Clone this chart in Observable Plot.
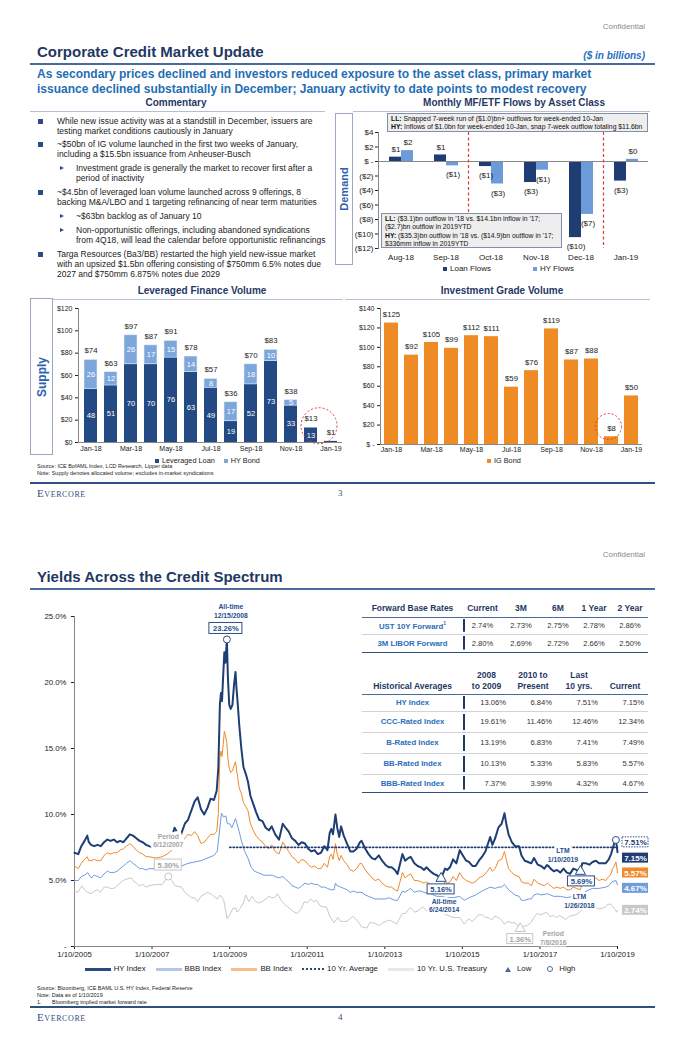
<!DOCTYPE html>
<html><head><meta charset="utf-8">
<script src="https://cdn.jsdelivr.net/npm/d3@7"></script>
<script src="https://cdn.jsdelivr.net/npm/@observablehq/plot@0.6"></script>
<style>
body{margin:0;background:#fff;font-family:"Liberation Sans",Arial,sans-serif;}
#page{position:relative;width:680px;height:1050px;overflow:hidden;}
.a{position:absolute;white-space:nowrap;}
.conf{right:35px;font-size:8px;color:#8a8a8a;line-height:10px;}
.ttl{left:37px;font-size:15px;font-weight:bold;color:#1F3864;line-height:18px;}
.rule{position:absolute;left:30px;width:625px;}
.sub{left:37px;font-size:12px;font-weight:bold;color:#1F6EB5;line-height:14.5px;}
.hd{font-size:10px;font-weight:bold;color:#1F3864;line-height:12px;transform:translateX(-50%);}
.cm{position:absolute;left:57px;font-size:8.5px;line-height:10px;color:#222;white-space:nowrap;}
.cm.s{left:76px;}
.sq{position:absolute;left:-19px;top:3px;width:4.5px;height:4.5px;background:#2B4C86;}
.tri{position:absolute;left:-16px;top:2.5px;width:0;height:0;border-left:4.5px solid #2B4C86;border-top:2.5px solid transparent;border-bottom:2.5px solid transparent;}
.vbox{position:absolute;border:1px solid #9aa8c0;box-sizing:border-box;display:flex;align-items:center;justify-content:center;}
.vbox span{transform:rotate(-90deg);font-weight:bold;font-size:11px;color:#2E62AD;white-space:nowrap;}
.note{position:absolute;background:#eeeeee;border:1px solid #8090a8;box-sizing:border-box;font-size:6.8px;line-height:8.4px;color:#111;padding:0 0 0 3px;white-space:nowrap;z-index:3;}
.lg{position:absolute;font-size:8px;line-height:10px;color:#222;white-space:nowrap;display:flex;align-items:center;}
.lg i{display:inline-block;width:4px;height:4px;margin-right:3px;}
.src{left:37px;font-size:5.5px;line-height:7px;color:#222;}
.ev{left:37px;font-family:"Liberation Serif","DejaVu Serif",serif;font-variant:small-caps;font-size:11px;letter-spacing:0.6px;color:#2F4F80;line-height:12px;}
.pg{left:338px;font-family:"Liberation Serif","DejaVu Serif",serif;font-size:9px;color:#2F4F80;line-height:12px;}
.tb{position:absolute;left:362px;border-collapse:collapse;table-layout:fixed;width:286px;font-size:7.6px;color:#333;z-index:4;}
.tb th{font-weight:bold;font-size:8.5px;color:#1F3864;padding:0;text-align:center;border-bottom:1.5px solid #4A6A9A;line-height:11px;}
.tb td{padding:0;text-align:center;border-bottom:1px solid #D3D3D3;}
.tb tr.last td{border-bottom:1.5px solid #2F4F80;}
.tb td.lab{color:#2A6EBB;font-weight:bold;font-size:7.8px;}
.tb td.bar{background:linear-gradient(#1F3864,#1F3864) no-repeat 0 50%/2px 80%;}
.tb2 td{text-align:right;padding-right:4px;}
.tb2 td.lab{text-align:center;padding-right:0;}
.tb2 th{vertical-align:bottom;padding-bottom:2px;}
.ylg{position:absolute;left:-10px;width:680px;display:flex;justify-content:center;align-items:center;gap:10px;font-size:7.8px;line-height:10px;color:#222;}
.ylg span{display:flex;align-items:center;}
.ylg i{display:inline-block;margin-right:3px;}
sup{font-size:5px;vertical-align:4px;}
</style></head>
<body><div id="page">

<div class="a conf" style="top:22px">Confidential</div>
<div class="a ttl" style="top:43px">Corporate Credit Market Update</div>
<div class="a" style="right:35px;top:50px;font-size:10px;font-style:italic;font-weight:bold;color:#1F6FC0;line-height:12px">($ in billions)</div>
<div class="rule" style="top:63px;height:1.5px;background:#4A6A9A"></div>
<div class="a sub" style="top:67px">As secondary prices declined and investors reduced exposure to the asset class, primary market<br>issuance declined substantially in December; January activity to date points to modest recovery</div>
<div class="a hd" style="left:176px;top:97px">Commentary</div>
<div class="a hd" style="left:514px;top:97px">Monthly MF/ETF Flows by Asset Class</div>
<div class="a" style="left:30px;top:111px;width:295px;height:1px;background:#b3bfd2"></div>
<div class="a" style="left:353px;top:111px;width:297px;height:1px;background:#b3bfd2"></div>

<div class="cm" style="top:116px"><i class="sq"></i>While new issue activity was at a standstill in December, issuers are<br>testing market conditions cautiously in January</div>
<div class="cm" style="top:139px"><i class="sq"></i>~$50bn of IG volume launched in the first two weeks of January,<br>including a $15.5bn issuance from Anheuser-Busch</div>
<div class="cm s" style="top:163px"><i class="tri"></i>Investment grade is generally the market to recover first after a<br>period of inactivity</div>
<div class="cm" style="top:187px"><i class="sq"></i>~$4.5bn of leveraged loan volume launched across 9 offerings, 8<br>backing M&amp;A/LBO and 1 targeting refinancing of near term maturities</div>
<div class="cm s" style="top:211px"><i class="tri"></i>~$63bn backlog as of January 10</div>
<div class="cm s" style="top:225px"><i class="tri"></i>Non-opportunistic offerings, including abandoned syndications<br>from 4Q18, will lead the calendar before opportunistic refinancings</div>
<div class="cm" style="top:249px"><i class="sq"></i>Targa Resources (Ba3/BB) restarted the high yield new-issue market<br>with an upsized $1.5bn offering consisting of $750mm 6.5% notes due<br>2027 and $750mm 6.875% notes due 2029</div>

<div class="vbox" style="left:335px;top:113px;width:18px;height:152px"><span>Demand</span></div>
<div class="note" style="left:387px;top:113px;width:261px;height:19px;padding-top:1px"><b>LL:</b> Snapped 7-week run of ($1.0)bn+ outflows for week-ended 10-Jan<br><b>HY:</b> Inflows of $1.0bn for week-ended 10-Jan, snap 7-week outflow totaling $11.6bn</div>
<div class="note" style="left:381px;top:213px;width:181px;height:35px;padding-top:1px"><b>LL:</b> ($3.1)bn outflow in '18 vs. $14.1bn inflow in '17;<br>($2.7)bn outflow in 2019YTD<br><b>HY:</b> ($35.3)bn outflow in '18 vs. ($14.9)bn outflow in '17;<br>$336mm inflow in 2019YTD</div>
<div class="lg" style="left:443px;top:264px"><i style="background:#1F3D73"></i>Loan Flows<i style="background:#6B9BD8;margin-left:42px"></i>HY Flows</div>

<div class="a hd" style="left:202px;top:285px">Leveraged Finance Volume</div>
<div class="a hd" style="left:502px;top:285px">Investment Grade Volume</div>
<div class="a" style="left:53px;top:299px;width:290px;height:1px;background:#b3bfd2"></div>
<div class="a" style="left:345px;top:299px;width:305px;height:1px;background:#b3bfd2"></div>
<div class="vbox" style="left:30px;top:298px;width:23px;height:157px"><span style="font-size:12px">Supply</span></div>
<div class="lg" style="left:155px;top:456px;font-size:7.3px"><i style="background:#234A82"></i>Leveraged Loan<i style="background:#7DA7DB;margin-left:9px"></i>HY Bond</div>
<div class="lg" style="left:487px;top:456px;font-size:7.3px"><i style="background:#EE8B24"></i>IG Bond</div>
<div class="a src" style="top:463px">Source: ICE BofAML Index, LCD Research, Lipper data</div>
<div class="a src" style="top:470px">Note: Supply denotes allocated volume; excludes in-market syndications</div>

<div class="rule" style="top:482px;height:2px;background:#2F4F80"></div>
<div class="a ev" style="top:487px">Evercore</div>
<div class="a pg" style="top:487px">3</div>

<div class="a conf" style="top:550px">Confidential</div>
<div class="a ttl" style="top:568px">Yields Across the Credit Spectrum</div>
<div class="rule" style="top:588px;height:2px;background:#4A6A9A"></div>

<table class="tb" style="top:600px">
<colgroup><col style="width:101px"><col style="width:39px"><col style="width:38px"><col style="width:36px"><col style="width:36px"><col style="width:36px"></colgroup>
<tr style="height:17px"><th>Forward Base Rates</th><th>Current</th><th>3M</th><th>6M</th><th>1 Year</th><th>2 Year</th></tr>
<tr style="height:17px"><td class="lab">UST 10Y Forward<sup>1</sup></td><td class="bar">2.74%</td><td>2.73%</td><td>2.75%</td><td>2.78%</td><td>2.86%</td></tr>
<tr style="height:18px" class="last"><td class="lab">3M LIBOR Forward</td><td class="bar">2.80%</td><td>2.69%</td><td>2.72%</td><td>2.66%</td><td>2.50%</td></tr>
</table>

<table class="tb tb2" style="top:668px">
<colgroup><col style="width:101px"><col style="width:47px"><col style="width:46px"><col style="width:46px"><col style="width:46px"></colgroup>
<tr style="height:26px"><th>Historical Averages</th><th>2008<br>to 2009</th><th>2010 to<br>Present</th><th>Last<br>10 yrs.</th><th>Current</th></tr>
<tr style="height:17px"><td class="lab">HY Index</td><td class="bar">13.06%</td><td>6.84%</td><td>7.51%</td><td>7.15%</td></tr>
<tr style="height:21px"><td class="lab">CCC-Rated Index</td><td class="bar">19.61%</td><td>11.46%</td><td>12.46%</td><td>12.34%</td></tr>
<tr style="height:21px"><td class="lab">B-Rated Index</td><td class="bar">13.19%</td><td>6.83%</td><td>7.41%</td><td>7.49%</td></tr>
<tr style="height:21px"><td class="lab">BB-Rated Index</td><td class="bar">10.13%</td><td>5.33%</td><td>5.83%</td><td>5.57%</td></tr>
<tr style="height:18px" class="last"><td class="lab">BBB-Rated Index</td><td class="bar">7.37%</td><td>3.99%</td><td>4.32%</td><td>4.67%</td></tr>
</table>

<div class="ylg" style="top:964px">
<span><i style="width:26px;height:3px;background:#2A4A7F"></i>HY Index</span>
<span><i style="width:26px;height:3px;background:#B3C8E8"></i>BBB Index</span>
<span><i style="width:26px;height:3px;background:#F6BE8A"></i>BB Index</span>
<span><i style="width:22px;height:0;border-top:2px dotted #2A4A7F"></i>10 Yr. Average</span>
<span><i style="width:26px;height:3px;background:#E8E8E8"></i>10 Yr. U.S. Treasury</span>
<span style="margin-left:8px"><i style="width:0;height:0;border-left:3px solid transparent;border-right:3px solid transparent;border-bottom:5px solid #4A6A9A;margin-right:6px"></i>Low</span>
<span style="margin-left:6px"><i style="width:4px;height:4px;border:1px solid #4A6A9A;border-radius:50%;margin-right:6px"></i>High</span>
</div>
<div class="a src" style="top:985px">Source: Bloomberg, ICE BAML U.S. HY Index, Federal Reserve</div>
<div class="a src" style="top:992px">Note: Data as of 1/10/2019</div>
<div class="a src" style="top:999px"><span style="display:inline-block;width:15px">1.</span>Bloomberg implied market forward rate</div>
<div class="rule" style="top:1006px;height:2px;background:#2F4F80"></div>
<div class="a ev" style="top:1011px">Evercore</div>
<div class="a pg" style="top:1011px">4</div>

</div>
<script>
// ---------- Monthly MF/ETF flows ($bn) ----------
const flowMonths = ["Aug-18","Sep-18","Oct-18","Nov-18","Dec-18","Jan-19"];
const loanFlows = [0.6, 0.9, -0.7, -2.9, -10.5, -2.7];
const hyFlows = [1.5, -0.6, -3.1, -1.2, -7.3, 0.3];
const loanFlowLabels = ["$1","$1","($1)","($3)","($10)","($3)"];
const hyFlowLabels = ["$2","($1)","($3)","($1)","($7)","$0"];
const flowTicks = [4,2,0,-2,-4,-6,-8,-10,-12];
const flowDividers = ["Oct-18","Jan-19"];

// ---------- Leveraged finance / IG volume ($bn) ----------
const volMonths = ["Jan-18","Feb-18","Mar-18","Apr-18","May-18","Jun-18","Jul-18","Aug-18","Sep-18","Oct-18","Nov-18","Dec-18","Jan-19"];
const levLoan = [48,51,70,70,76,63,49,19,52,73,33,13,1];
const hyBond = [26,12,26,17,15,14,8,17,18,10,5,0,0];
const levTotalLabels = ["$74","$63","$97","$87","$91","$78","$57","$36","$70","$83","$38","$13","$1"];
const levTicks = [0,20,40,60,80,100,120];
const igBond = [125,92,105,99,112,111,59,76,119,87,88,8,50];
const igTicks = [0,20,40,60,80,100,120,140];
const volTickMonths = ["Jan-18","Mar-18","May-18","Jul-18","Sep-18","Nov-18","Jan-19"];
const lfHighlight = [{month:"Dec-18", value:15}];
const igHighlight = [{month:"Dec-18", value:18.5}];

// ---------- Yields (%) ----------
const hySeries = [["2005-01-10",7.1],["2005-02-15",7.0],["2005-03-15",7.6],["2005-04-15",8.0],["2005-05-10",8.4],["2005-05-25",7.9],["2005-06-15",7.7],["2005-07-15",7.6],["2005-08-15",7.7],["2005-09-15",7.6],["2005-10-15",7.9],["2005-11-15",8.1],["2005-12-15",8.0],["2006-01-15",8.1],["2006-02-15",7.9],["2006-03-15",8.0],["2006-04-15",7.9],["2006-05-15",8.2],["2006-06-15",8.5],["2006-07-15",8.4],["2006-08-15",8.2],["2006-09-15",8.0],["2006-10-15",7.9],["2006-11-15",7.7],["2006-12-15",7.6],["2007-02-15",7.5],["2007-04-15",7.4],["2007-06-01",7.5],["2007-07-15",8.3],["2007-08-10",9.0],["2007-09-01",8.7],["2007-10-10",8.5],["2007-11-15",9.3],["2007-12-15",9.6],["2008-01-15",10.3],["2008-02-15",11.0],["2008-03-15",11.3],["2008-04-15",10.4],["2008-05-15",10.0],["2008-06-15",10.5],["2008-07-15",11.2],["2008-08-15",11.1],["2008-09-10",11.8],["2008-09-25",13.5],["2008-10-10",18.3],["2008-10-20",19.2],["2008-10-30",18.6],["2008-11-10",20.5],["2008-11-21",22.3],["2008-12-01",21.5],["2008-12-15",23.26],["2008-12-24",20.5],["2009-01-06",18.3],["2009-01-20",18.0],["2009-02-05",18.3],["2009-02-20",19.8],["2009-03-06",20.8],["2009-03-16",19.5],["2009-03-27",18.4],["2009-04-10",16.8],["2009-04-30",15.0],["2009-05-20",13.6],["2009-06-10",13.1],["2009-07-01",12.5],["2009-07-25",11.4],["2009-08-20",10.8],["2009-09-15",10.2],["2009-10-15",9.6],["2009-11-15",9.5],["2009-12-15",9.0],["2010-01-15",8.8],["2010-02-10",9.1],["2010-03-15",8.5],["2010-04-20",8.1],["2010-05-25",9.3],["2010-06-20",9.0],["2010-07-20",8.7],["2010-08-20",8.2],["2010-09-20",8.0],["2010-10-20",7.7],["2010-11-20",7.9],["2010-12-20",7.8],["2011-01-20",7.4],["2011-02-20",7.2],["2011-03-20",7.3],["2011-04-20",7.0],["2011-05-20",7.1],["2011-06-20",7.6],["2011-07-20",7.3],["2011-08-10",8.6],["2011-08-25",8.9],["2011-09-10",8.5],["2011-10-03",10.0],["2011-10-20",9.0],["2011-11-08",8.3],["2011-11-25",9.1],["2011-12-20",8.4],["2012-01-20",7.8],["2012-02-20",7.2],["2012-03-20",7.2],["2012-04-20",7.4],["2012-05-20",7.9],["2012-06-05",8.0],["2012-07-10",7.4],["2012-08-10",7.0],["2012-09-10",6.7],["2012-10-10",6.6],["2012-11-15",6.9],["2012-12-15",6.5],["2013-01-15",6.2],["2013-02-15",6.0],["2013-03-15",6.0],["2013-04-15",5.8],["2013-05-10",5.5],["2013-06-25",7.0],["2013-07-20",6.5],["2013-08-20",6.7],["2013-09-10",6.8],["2013-10-15",6.3],["2013-11-15",6.1],["2013-12-15",6.0],["2014-01-15",5.8],["2014-02-05",6.0],["2014-03-15",5.7],["2014-04-15",5.5],["2014-05-15",5.4],["2014-06-24",5.16],["2014-07-31",5.9],["2014-08-20",5.8],["2014-09-15",6.0],["2014-10-15",6.6],["2014-11-15",6.3],["2014-12-16",7.3],["2015-01-15",6.9],["2015-02-15",6.5],["2015-03-15",6.4],["2015-04-15",6.1],["2015-05-15",6.1],["2015-06-15",6.5],["2015-07-15",6.8],["2015-08-15",7.2],["2015-09-29",8.3],["2015-10-20",7.7],["2015-11-15",8.2],["2015-12-15",9.0],["2016-01-15",9.3],["2016-02-11",10.1],["2016-03-01",9.2],["2016-03-20",8.5],["2016-04-20",7.9],["2016-05-20",7.6],["2016-06-27",7.6],["2016-07-20",6.9],["2016-08-20",6.5],["2016-09-20",6.4],["2016-10-20",6.3],["2016-11-15",6.7],["2016-12-20",6.2],["2017-01-20",6.1],["2017-02-20",5.9],["2017-03-20",6.2],["2017-04-20",5.9],["2017-05-20",5.7],["2017-06-20",5.8],["2017-07-20",5.6],["2017-08-20",5.9],["2017-09-20",5.6],["2017-10-20",5.5],["2017-11-20",5.9],["2017-12-20",5.8],["2018-01-26",5.69],["2018-02-12",6.3],["2018-03-20",6.3],["2018-04-20",6.2],["2018-05-20",6.4],["2018-06-20",6.5],["2018-07-20",6.3],["2018-08-20",6.3],["2018-09-20",6.3],["2018-10-20",6.6],["2018-11-10",7.0],["2018-11-25",7.4],["2018-12-10",7.8],["2018-12-26",8.07],["2019-01-03",7.6],["2019-01-10",7.15]];

const bbSeries = [["2005-01-10",6.1],["2005-02-15",5.9],["2005-03-15",6.3],["2005-04-15",6.6],["2005-05-10",6.8],["2005-05-25",6.5],["2005-06-15",6.5],["2005-07-15",6.6],["2005-08-15",6.5],["2005-09-15",6.5],["2005-10-15",6.9],["2005-11-15",7.1],["2005-12-15",7.0],["2006-01-15",7.1],["2006-02-15",7.1],["2006-03-15",7.3],["2006-04-15",7.4],["2006-05-15",7.6],["2006-06-15",7.8],["2006-07-15",7.6],["2006-08-15",7.3],["2006-09-15",7.1],["2006-10-15",7.0],["2006-11-15",6.8],["2006-12-15",6.8],["2007-02-15",6.7],["2007-04-15",6.8],["2007-06-01",7.0],["2007-07-15",7.3],["2007-08-10",7.6],["2007-09-01",7.7],["2007-10-10",7.7],["2007-11-15",8.2],["2007-12-15",8.5],["2008-01-15",8.4],["2008-02-15",8.7],["2008-03-15",8.4],["2008-04-15",7.8],["2008-05-15",7.9],["2008-06-15",8.2],["2008-07-15",8.5],["2008-08-15",8.5],["2008-09-10",8.7],["2008-09-25",10.0],["2008-10-10",14.3],["2008-10-20",14.8],["2008-10-30",14.4],["2008-11-10",15.3],["2008-11-21",16.3],["2008-12-01",16.0],["2008-12-15",15.4],["2008-12-24",14.3],["2009-01-06",13.5],["2009-01-20",13.2],["2009-02-05",13.3],["2009-02-20",13.7],["2009-03-06",14.0],["2009-03-16",13.4],["2009-03-27",12.8],["2009-04-10",12.0],["2009-04-30",11.6],["2009-05-20",10.9],["2009-06-10",10.6],["2009-07-01",10.3],["2009-07-25",9.3],["2009-08-20",8.8],["2009-09-15",8.4],["2009-10-15",8.1],["2009-11-15",7.9],["2009-12-15",7.6],["2010-01-15",7.4],["2010-02-10",7.7],["2010-03-15",7.2],["2010-04-20",7.0],["2010-05-25",7.9],["2010-06-20",7.6],["2010-07-20",7.2],["2010-08-20",6.8],["2010-09-20",6.6],["2010-10-20",6.3],["2010-11-20",6.6],["2010-12-20",6.5],["2011-01-20",6.2],["2011-02-20",6.0],["2011-03-20",6.1],["2011-04-20",5.9],["2011-05-20",5.9],["2011-06-20",6.3],["2011-07-20",6.0],["2011-08-10",6.8],["2011-08-25",7.0],["2011-09-10",6.6],["2011-10-03",7.8],["2011-10-20",7.0],["2011-11-08",6.5],["2011-11-25",6.9],["2011-12-20",6.5],["2012-01-20",6.2],["2012-02-20",5.8],["2012-03-20",5.7],["2012-04-20",5.9],["2012-05-20",6.3],["2012-06-05",6.3],["2012-07-10",5.8],["2012-08-10",5.5],["2012-09-10",5.2],["2012-10-10",5.0],["2012-11-15",5.1],["2012-12-15",4.8],["2013-01-15",4.6],["2013-02-15",4.5],["2013-03-15",4.5],["2013-04-15",4.3],["2013-05-10",4.2],["2013-06-25",5.6],["2013-07-20",5.2],["2013-08-20",5.4],["2013-09-10",5.5],["2013-10-15",5.0],["2013-11-15",5.0],["2013-12-15",4.9],["2014-01-15",4.8],["2014-02-05",4.9],["2014-03-15",4.7],["2014-04-15",4.6],["2014-05-15",4.6],["2014-06-24",4.5],["2014-07-31",4.9],["2014-08-20",4.8],["2014-09-15",4.9],["2014-10-15",5.3],["2014-11-15",5.0],["2014-12-16",5.6],["2015-01-15",5.2],["2015-02-15",5.0],["2015-03-15",4.9],["2015-04-15",4.8],["2015-05-15",4.9],["2015-06-15",5.2],["2015-07-15",5.3],["2015-08-15",5.5],["2015-09-29",6.0],["2015-10-20",5.7],["2015-11-15",5.9],["2015-12-15",6.5],["2016-01-15",6.6],["2016-02-11",7.2],["2016-03-01",6.5],["2016-03-20",5.9],["2016-04-20",5.6],["2016-05-20",5.4],["2016-06-27",5.3],["2016-07-20",4.9],["2016-08-20",4.8],["2016-09-20",4.8],["2016-10-20",4.6],["2016-11-15",5.1],["2016-12-20",4.8],["2017-01-20",4.7],["2017-02-20",4.6],["2017-03-20",4.8],["2017-04-20",4.6],["2017-05-20",4.4],["2017-06-20",4.5],["2017-07-20",4.4],["2017-08-20",4.5],["2017-09-20",4.3],["2017-10-20",4.3],["2017-11-20",4.5],["2017-12-20",4.4],["2018-01-26",4.3],["2018-02-12",4.9],["2018-03-20",4.9],["2018-04-20",4.9],["2018-05-20",5.1],["2018-06-20",5.2],["2018-07-20",5.0],["2018-08-20",5.1],["2018-09-20",5.0],["2018-10-20",5.3],["2018-11-10",5.5],["2018-11-25",5.9],["2018-12-10",6.1],["2018-12-26",6.4],["2019-01-03",6.0],["2019-01-10",5.57]];

const bbbSeries = [["2005-01-10",5.0],["2005-02-15",5.0],["2005-03-15",5.3],["2005-04-15",5.4],["2005-05-15",5.6],["2005-06-15",5.2],["2005-07-15",5.4],["2005-08-15",5.3],["2005-09-15",5.2],["2005-10-15",5.5],["2005-11-15",5.7],["2005-12-15",5.6],["2006-01-15",5.6],["2006-02-15",5.7],["2006-03-15",5.9],["2006-04-15",6.1],["2006-05-15",6.3],["2006-06-15",6.5],["2006-07-15",6.3],["2006-08-15",6.1],["2006-09-15",5.9],["2006-10-15",5.9],["2006-11-15",5.8],["2006-12-15",5.9],["2007-02-15",5.9],["2007-04-15",5.9],["2007-06-12",6.3],["2007-08-15",6.1],["2007-10-15",6.1],["2007-12-15",6.3],["2008-02-15",6.4],["2008-04-15",6.5],["2008-06-15",6.7],["2008-08-15",6.9],["2008-09-15",7.2],["2008-10-10",9.0],["2008-10-25",10.1],["2008-11-15",9.8],["2008-12-05",9.9],["2008-12-20",9.3],["2009-01-10",9.3],["2009-01-30",9.0],["2009-02-20",9.4],["2009-03-06",9.7],["2009-03-20",9.3],["2009-04-10",8.7],["2009-05-01",8.0],["2009-06-01",7.2],["2009-07-01",6.7],["2009-08-01",6.0],["2009-09-01",5.7],["2009-10-01",5.6],["2009-11-01",5.5],["2009-12-01",5.4],["2010-01-15",5.4],["2010-02-15",5.4],["2010-03-15",5.3],["2010-04-15",5.2],["2010-05-25",5.3],["2010-06-20",5.1],["2010-07-20",4.9],["2010-08-20",4.6],["2010-09-20",4.5],["2010-10-20",4.4],["2010-11-20",4.6],["2010-12-20",4.8],["2011-01-20",4.7],["2011-02-20",4.8],["2011-03-20",4.7],["2011-04-20",4.7],["2011-05-20",4.5],["2011-06-20",4.5],["2011-07-20",4.4],["2011-08-20",4.3],["2011-09-20",4.3],["2011-10-03",4.8],["2011-10-20",4.6],["2011-11-20",4.5],["2011-12-20",4.4],["2012-01-20",4.3],["2012-02-20",4.1],["2012-03-20",4.2],["2012-04-20",4.1],["2012-05-20",4.1],["2012-06-10",4.1],["2012-07-10",3.9],["2012-08-10",3.8],["2012-09-10",3.7],["2012-10-10",3.6],["2012-11-15",3.6],["2012-12-15",3.6],["2013-01-15",3.6],["2013-02-15",3.7],["2013-03-15",3.6],["2013-04-15",3.5],["2013-05-10",3.5],["2013-06-25",4.2],["2013-07-20",4.1],["2013-08-20",4.3],["2013-09-10",4.4],["2013-10-15",4.1],["2013-11-15",4.2],["2013-12-15",4.2],["2014-01-15",4.1],["2014-03-15",4.0],["2014-05-15",3.8],["2014-06-24",3.8],["2014-08-15",3.7],["2014-10-15",3.7],["2014-12-16",3.8],["2015-01-30",3.5],["2015-03-15",3.7],["2015-05-15",3.9],["2015-07-15",4.2],["2015-09-29",4.5],["2015-11-15",4.4],["2015-12-15",4.5],["2016-01-15",4.5],["2016-02-11",4.7],["2016-03-20",4.3],["2016-04-20",4.1],["2016-05-20",3.9],["2016-06-27",3.8],["2016-07-20",3.5],["2016-08-20",3.5],["2016-09-20",3.6],["2016-10-20",3.6],["2016-11-15",3.9],["2016-12-20",4.0],["2017-01-20",3.9],["2017-03-20",4.0],["2017-05-20",3.8],["2017-07-20",3.8],["2017-09-20",3.7],["2017-11-20",3.8],["2018-01-26",3.8],["2018-03-20",4.2],["2018-05-20",4.4],["2018-07-20",4.4],["2018-09-20",4.5],["2018-10-20",4.6],["2018-11-20",4.9],["2018-12-26",5.0],["2019-01-10",4.67]];

const ustSeries = [["2005-01-10",4.2],["2005-02-10",4.1],["2005-03-20",4.6],["2005-04-15",4.3],["2005-05-15",4.1],["2005-06-15",4.0],["2005-07-15",4.2],["2005-08-15",4.3],["2005-09-10",4.1],["2005-10-15",4.5],["2005-11-15",4.5],["2005-12-15",4.4],["2006-01-15",4.4],["2006-02-15",4.6],["2006-03-15",4.8],["2006-04-15",5.0],["2006-05-15",5.1],["2006-06-28",5.2],["2006-07-15",5.0],["2006-08-15",4.8],["2006-09-15",4.6],["2006-10-15",4.7],["2006-11-15",4.5],["2006-12-15",4.6],["2007-02-15",4.7],["2007-04-15",4.7],["2007-06-12",5.30],["2007-07-15",5.0],["2007-08-15",4.6],["2007-10-15",4.5],["2007-11-15",4.1],["2008-01-15",3.7],["2008-02-15",3.7],["2008-03-15",3.4],["2008-04-15",3.8],["2008-06-15",4.1],["2008-07-15",4.0],["2008-08-15",3.8],["2008-09-15",3.6],["2008-10-15",3.9],["2008-11-15",3.5],["2008-12-18",2.1],["2009-01-10",2.4],["2009-02-10",2.9],["2009-03-10",2.9],["2009-03-20",2.6],["2009-04-20",2.9],["2009-05-20",3.3],["2009-06-10",3.9],["2009-07-10",3.4],["2009-08-10",3.8],["2009-09-10",3.4],["2009-10-10",3.3],["2009-11-10",3.4],["2009-12-20",3.6],["2010-01-10",3.8],["2010-02-10",3.7],["2010-03-10",3.7],["2010-04-05",4.0],["2010-05-10",3.5],["2010-06-10",3.2],["2010-07-10",3.0],["2010-08-10",2.8],["2010-09-10",2.6],["2010-10-10",2.5],["2010-11-10",2.8],["2010-12-15",3.4],["2011-01-10",3.3],["2011-02-10",3.6],["2011-03-10",3.4],["2011-04-10",3.5],["2011-05-10",3.1],["2011-06-10",3.0],["2011-07-10",3.0],["2011-08-10",2.3],["2011-09-20",1.8],["2011-10-25",2.2],["2011-11-20",1.9],["2011-12-20",1.9],["2012-01-20",1.9],["2012-03-15",2.3],["2012-04-20",2.0],["2012-05-20",1.7],["2012-06-01",1.5],["2012-07-25",1.4],["2012-08-20",1.8],["2012-09-20",1.8],["2012-10-20",1.7],["2012-11-20",1.6],["2012-12-20",1.8],["2013-01-20",1.9],["2013-02-20",2.0],["2013-03-20",1.9],["2013-05-01",1.7],["2013-05-20",2.0],["2013-06-25",2.5],["2013-07-20",2.5],["2013-09-05",2.95],["2013-10-20",2.6],["2013-11-20",2.7],["2013-12-31",3.0],["2014-02-10",2.7],["2014-04-10",2.7],["2014-06-24",2.6],["2014-08-15",2.4],["2014-10-15",2.2],["2014-12-15",2.2],["2015-01-30",1.7],["2015-03-10",2.1],["2015-04-15",1.9],["2015-06-10",2.4],["2015-07-15",2.4],["2015-08-15",2.2],["2015-09-15",2.2],["2015-10-15",2.0],["2015-11-10",2.3],["2015-12-15",2.2],["2016-01-15",2.0],["2016-02-11",1.7],["2016-03-15",1.9],["2016-04-15",1.8],["2016-05-15",1.8],["2016-06-15",1.6],["2016-07-08",1.36],["2016-08-15",1.55],["2016-09-15",1.6],["2016-10-15",1.8],["2016-11-15",2.2],["2016-12-15",2.5],["2017-01-15",2.4],["2017-03-15",2.6],["2017-04-15",2.25],["2017-05-15",2.35],["2017-06-15",2.2],["2017-07-15",2.35],["2017-09-08",2.05],["2017-10-15",2.3],["2017-11-15",2.35],["2017-12-15",2.4],["2018-01-26",2.66],["2018-02-20",2.9],["2018-04-10",2.8],["2018-05-17",3.1],["2018-06-15",2.95],["2018-07-15",2.85],["2018-08-15",2.9],["2018-09-15",2.95],["2018-10-08",3.2],["2018-11-08",3.2],["2018-12-03",2.95],["2018-12-20",2.8],["2019-01-03",2.6],["2019-01-10",2.74]];

const tenYrAverage = [["2009-01-10",7.51],["2019-01-10",7.51]];
const yieldHighs = [
  {date:"2008-12-15", v:23.26, label:"23.26%", note:"All-time\n12/15/2008", tone:"hy"},
  {date:"2007-06-12", v:5.30, label:"5.30%", note:"Period\n6/12/2007", tone:"ust"},
  {date:"2018-12-26", v:8.07, label:"", note:"LTM\n1/10/2019", tone:"hy"}
];
const yieldLows = [
  {date:"2014-06-24", v:5.16, label:"5.16%", note:"All-time\n6/24/2014", tone:"hy"},
  {date:"2018-01-26", v:5.69, label:"5.69%", note:"LTM\n1/26/2018", tone:"hy"},
  {date:"2016-07-08", v:1.36, label:"1.36%", note:"Period\n7/8/2016", tone:"ust"}
];
const endValues = [
  {name:"10 Yr. Average", v:7.51, label:"7.51%"},
  {name:"HY Index", v:7.15, label:"7.15%"},
  {name:"BB Index", v:5.57, label:"5.57%"},
  {name:"BBB Index", v:4.67, label:"4.67%"},
  {name:"10 Yr. U.S. Treasury", v:2.74, label:"2.74%"}
];
const yieldXTicks = ["2005-01-10","2007-01-10","2009-01-10","2011-01-10","2013-01-10","2015-01-10","2017-01-10","2019-01-10"];
const yieldYTicks = [0,5,10,15,20,25];

// ---------- layout/styling (not data) ----------
const NAVY = "#1F3D73", LIGHT = "#6B9BD8", RED = "#E03A3A";
const page = document.getElementById("page");
const baseStyle = (left, top, fs) => ({position:"absolute", left:left+"px", top:top+"px", background:"transparent", overflow:"visible", fontFamily:"Liberation Sans, Arial, sans-serif", fontSize:fs+"px", color:"#222"});
const parse = d3.utcParse("%Y-%m-%d");

// Flows chart
const fi = flowMonths.map((_, i) => i);
const fx = i => flowMonths[i];
const dollar = v => v === 0 ? "$ -" : v > 0 ? "$" + v : "($" + (-v) + ")";
const flows = Plot.plot({
  width: 320, height: 155, marginLeft: 38, marginRight: 12, marginTop: 22, marginBottom: 17,
  style: baseStyle(340, 110, 8),
  x: {type: "band", domain: flowMonths, padding: 0, tickSize: 0, tickPadding: 6, label: null},
  y: {domain: [-12, 4], ticks: flowTicks, tickFormat: dollar, tickSize: 3, tickPadding: 2, label: null},
  marks: [
    Plot.barY(fi, {x: fx, y1: 0, y2: i => loanFlows[i], fill: NAVY, insetLeft: 11, insetRight: 22}),
    Plot.barY(fi, {x: fx, y1: 0, y2: i => hyFlows[i], fill: LIGHT, insetLeft: 23, insetRight: 10}),
    Plot.ruleY([0], {stroke: "#888"}),
    Plot.frame({anchor: "left", stroke: "#888"}),
    Plot.ruleX(flowDividers, {x: d => d, dx: -22.5, stroke: RED, strokeWidth: 1.2, strokeDasharray: "3,2.5"}),
    Plot.text(fi.filter(i => loanFlows[i] >= 0), {x: fx, y: i => loanFlows[i], text: i => loanFlowLabels[i], dx: -5, dy: -8}),
    Plot.text(fi.filter(i => loanFlows[i] < 0), {x: fx, y: i => loanFlows[i], text: i => loanFlowLabels[i], dx: -5, dy: 9}),
    Plot.text(fi.filter(i => hyFlows[i] >= 0), {x: fx, y: i => hyFlows[i], text: i => hyFlowLabels[i], dx: 7, dy: -8}),
    Plot.text(fi.filter(i => hyFlows[i] < 0), {x: fx, y: i => hyFlows[i], text: i => hyFlowLabels[i], dx: 7, dy: 9})
  ]
});
page.appendChild(flows);

// Leveraged finance volume
const vi = volMonths.map((_, i) => i);
const vx = i => volMonths[i];
const lf = Plot.plot({
  width: 300, height: 160, marginLeft: 28, marginRight: 8, marginTop: 10, marginBottom: 16,
  style: baseStyle(50, 298, 7),
  x: {type: "band", domain: volMonths, paddingInner: 0.36, paddingOuter: 0.19, ticks: volTickMonths, tickSize: 0, tickPadding: 4, label: null},
  y: {domain: [0, 120], ticks: levTicks, tickFormat: d => "$" + d, tickSize: 3, tickPadding: 3, label: null},
  marks: [
    Plot.barY(vi, {x: vx, y1: 0, y2: i => levLoan[i], fill: "#234A82"}),
    Plot.barY(vi.filter(i => hyBond[i] > 0), {x: vx, y1: i => levLoan[i], y2: i => levLoan[i] + hyBond[i], fill: "#7DA7DB", stroke: "#e8eef8", strokeWidth: 0.6}),
    Plot.ruleY([0], {stroke: "#888"}),
    Plot.frame({anchor: "left", stroke: "#888"}),
    Plot.text(vi.filter(i => levLoan[i] >= 5), {x: vx, y: i => levLoan[i] / 2, text: i => String(levLoan[i]), fill: "white", fontSize: 7.5}),
    Plot.text(vi.filter(i => hyBond[i] > 0), {x: vx, y: i => levLoan[i] + hyBond[i] / 2, text: i => String(hyBond[i]), fill: "white", fontSize: 7.5}),
    Plot.text(vi, {x: vx, y: i => levLoan[i] + hyBond[i], text: i => levTotalLabels[i], dy: -9, fontSize: 7.8}),
    Plot.dot(lfHighlight, {x: "month", y: "value", r: 18, dx: 8, stroke: RED, strokeWidth: 1, strokeDasharray: "2,2", fill: "none"})
  ]
});
page.appendChild(lf);

// Investment grade volume
const ig = Plot.plot({
  width: 320, height: 160, marginLeft: 40, marginRight: 18, marginTop: 10, marginBottom: 14,
  style: baseStyle(340, 298, 7),
  x: {type: "band", domain: volMonths, paddingInner: 0.31, paddingOuter: 0.15, ticks: volTickMonths, tickSize: 0, tickPadding: 3, label: null},
  y: {domain: [0, 140], ticks: igTicks, tickFormat: d => d === 0 ? "$ -" : "$" + d, tickSize: 3, tickPadding: 3, label: null},
  marks: [
    Plot.barY(vi, {x: vx, y1: 0, y2: i => igBond[i], fill: "#EE8B24"}),
    Plot.ruleY([0], {stroke: "#888"}),
    Plot.frame({anchor: "left", stroke: "#888"}),
    Plot.text(vi, {x: vx, y: i => igBond[i], text: i => "$" + igBond[i], dy: -8.5, fontSize: 7.8}),
    Plot.dot(igHighlight, {x: "month", y: "value", r: 13, dx: -3, stroke: RED, strokeWidth: 1, strokeDasharray: "2,2", fill: "none"})
  ]
});
page.appendChild(ig);

// Yields across the credit spectrum
const rows = s => s.map(([d, v]) => ({date: parse(d), v}));
const hy = rows(hySeries), bb = rows(bbSeries), bbb = rows(bbbSeries), ust = rows(ustSeries), avg = rows(tenYrAverage);
const toPts = arr => arr.map(d => ({...d, date: parse(d.date)}));
const highs = toPts(yieldHighs), lows = toPts(yieldLows);
const lastDate = parse(yieldXTicks[yieldXTicks.length - 1]);
const ends = endValues.map(d => ({...d, date: lastDate}));
const TONE = {hy: {stroke: "#2C4F86", text: "#1F4E8C"}, ust: {stroke: "#C6C6C6", text: "#A3A3A3"}};

function box(d, o) {
  return [
    Plot.rect([d], {x1: "date", x2: "date", y1: "v", y2: "v", dx: o.dx, dy: o.dy,
      insetLeft: -o.w / 2, insetRight: -o.w / 2, insetTop: -o.h / 2, insetBottom: -o.h / 2,
      fill: o.fill, stroke: o.stroke, strokeWidth: o.sw ?? 1, strokeDasharray: o.dash}),
    Plot.text([d], {x: "date", y: "v", text: "label", dx: o.dx, dy: o.dy + 0.5, fill: o.color, fontWeight: "bold", fontSize: o.fs ?? 7.6})
  ];
}
function note(d, o) {
  return Plot.text([d], {x: "date", y: "v", text: "note", dx: o.dx, dy: o.dy, lineHeight: o.lh, fill: TONE[d.tone].text,
    fontWeight: "bold", fontSize: 6.8, stroke: "white", strokeWidth: o.halo ?? 3});
}
const highBox = [{dx: -1, dy: -11, w: 33, h: 11}, {dx: 0, dy: -11.5, w: 27, h: 11}, null];
const highNote = [{dx: 4, dy: -29, lh: 1.3}, {dx: 0, dy: -36, lh: 1.1, halo: 6}, {dx: -53, dy: 14.5, lh: 1.3, halo: 5}];
const lowBox = [{dx: 0, dy: 11, w: 27, h: 10}, {dx: 1, dy: 10, w: 27, h: 10}, {dx: 0, dy: 10.5, w: 26, h: 10}];
const lowNote = [{dx: 3, dy: 27.5, lh: 1.15, halo: 4}, {dx: -1, dy: 29.5, lh: 1.3, halo: 4}, {dx: 33, dy: 9.5, lh: 1.3}];
const endBox = [
  {dx: 18, dy: -5, w: 26, h: 10, fill: "white", stroke: "#2C4F86", dash: "1.5,1.2", color: "#1F3D73"},
  {dx: 18, dy: 6, w: 26, h: 10, fill: "#1F3D73", stroke: "none", color: "white"},
  {dx: 18, dy: 0, w: 26, h: 10, fill: "#EF8A2A", stroke: "none", color: "white"},
  {dx: 18, dy: 3.5, w: 26, h: 10, fill: "#6E9DDC", stroke: "none", color: "white"},
  {dx: 18, dy: 0, w: 26, h: 10, fill: "#C8C8C8", stroke: "none", color: "white"}
];

const yMarks = [
  Plot.ruleY([0], {stroke: "#888"}),
  Plot.ruleX([parse(yieldXTicks[0])], {stroke: "#888"}),
  Plot.line(ust, {x: "date", y: "v", stroke: "#C9C9C9", strokeWidth: 1}),
  Plot.line(bbb, {x: "date", y: "v", stroke: "#6D9CDC", strokeWidth: 1}),
  Plot.line(bb, {x: "date", y: "v", stroke: "#F0892A", strokeWidth: 1}),
  Plot.line(hy, {x: "date", y: "v", stroke: "#1F3E74", strokeWidth: 2}),
  Plot.line(avg, {x: "date", y: "v", stroke: "#1F3E74", strokeWidth: 1.6, strokeDasharray: "1.4,2"})
];
highs.forEach((d, i) => {
  yMarks.push(note(d, highNote[i]));
  if (highBox[i]) yMarks.push(...box(d, {...highBox[i], fill: "white", stroke: TONE[d.tone].stroke, color: TONE[d.tone].text}));
});
lows.forEach((d, i) => {
  yMarks.push(note(d, lowNote[i]));
  yMarks.push(...box(d, {...lowBox[i], fill: "white", stroke: TONE[d.tone].stroke, color: TONE[d.tone].text}));
});
yMarks.push(Plot.dot(highs, {x: "date", y: "v", r: 3.5, fill: "white", stroke: d => TONE[d.tone].stroke, strokeWidth: 1}));
yMarks.push(Plot.dot(lows, {x: "date", y: "v", r: 3.8, symbol: "triangle", fill: "white", stroke: d => TONE[d.tone].stroke, strokeWidth: 1}));
ends.forEach((d, i) => yMarks.push(...box(d, {...endBox[i], fs: 8})));

const yields = Plot.plot({
  width: 630, height: 365, marginLeft: 44, marginRight: 43, marginTop: 21, marginBottom: 14,
  style: baseStyle(30, 595, 7.8),
  x: {type: "utc", domain: [parse(yieldXTicks[0]), lastDate], ticks: yieldXTicks.map(parse), tickFormat: d3.utcFormat("%-m/%-d/%Y"), tickSize: 3, tickPadding: 2, label: null},
  y: {domain: [0, 25], ticks: yieldYTicks, tickFormat: v => v === 0 ? "-" : v.toFixed(1) + "%", tickSize: 3, tickPadding: 5, label: null},
  marks: yMarks
});
page.insertBefore(yields, page.querySelector(".tb"));
</script>
</body></html>
